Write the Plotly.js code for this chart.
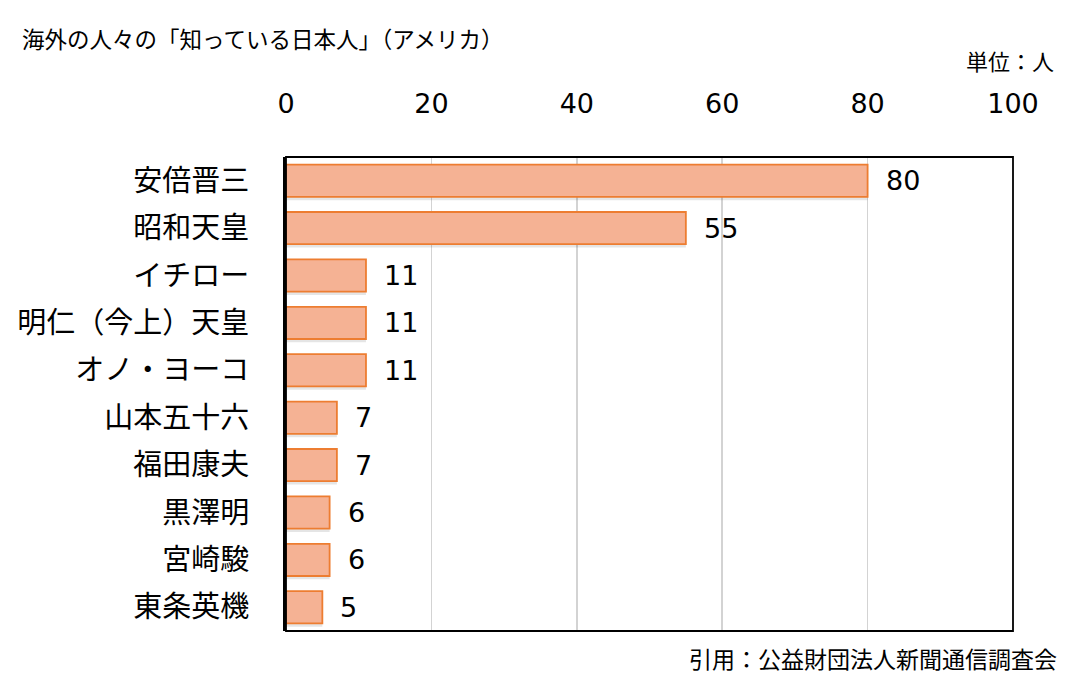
<!DOCTYPE html>
<html>
<head>
<meta charset="utf-8">
<script src="https://cdn.plot.ly/plotly-3.0.1.min.js"></script>
<style>html,body{margin:0;padding:0;background:#fff;}#chart{width:1067px;height:674px;}</style>
</head>
<body>
<div id="chart"></div>
<script>
const names = ["安倍晋三","昭和天皇","イチロー","明仁（今上）天皇","オノ・ヨーコ","山本五十六","福田康夫","黒澤明","宮崎駿","東条英機"];
const counts = [80, 55, 11, 11, 11, 7, 7, 6, 6, 5];
const tickVals = [0, 20, 40, 60, 80, 100];

const jp = '"Noto Sans CJK JP", "Noto Sans", sans-serif';
const num = '"DejaVu Sans", Verdana, sans-serif';

const shadow = {
  type: 'bar', orientation: 'h', y: names, x: counts,
  width: 0.70, offset: -0.29,
  marker: {color: 'rgba(0,0,0,0.10)', line: {width: 0}},
  hoverinfo: 'skip', showlegend: false
};
const bars = {
  type: 'bar', orientation: 'h', y: names, x: counts,
  width: 0.68,
  marker: {color: '#F5B294', line: {color: '#ED7D31', width: 1.8}},
  showlegend: false
};

const annotations = counts.map((v, i) => ({
  x: v, y: names[i], xref: 'x', yref: 'y', text: String(v),
  showarrow: false, xanchor: 'left', yanchor: 'middle', xshift: 16,
  font: {family: num, size: 27, color: '#000'}
}));
annotations.push({
  xref: 'paper', yref: 'paper', x: 1.059, y: 1.205, xanchor: 'right', yanchor: 'middle',
  text: '単位：人', showarrow: false, font: {family: jp, size: 22, color: '#000'}
});
annotations.push({
  xref: 'paper', yref: 'paper', x: 1.063, y: -0.057, xanchor: 'right', yanchor: 'middle',
  text: '引用：公益財団法人新聞通信調査会', showarrow: false, font: {family: jp, size: 23, color: '#000'}
});

const layout = {
  width: 1067, height: 674,
  margin: {l: 286, r: 54, t: 157, b: 43, pad: 0},
  paper_bgcolor: '#fff', plot_bgcolor: '#fff',
  title: {text: '海外の人々の「知っている日本人」（アメリカ）', x: 22/1067, xref: 'container', xanchor: 'left',
          y: 1 - 40/674, yref: 'container', yanchor: 'middle',
          font: {family: jp, size: 22.5, color: '#000'}},
  barmode: 'overlay',
  xaxis: {side: 'top', range: [0, 100], tickvals: tickVals, ticktext: tickVals.map(String),
          showgrid: true, gridcolor: '#D3D3D3', gridwidth: 1.5, zeroline: false,
          showline: false, ticks: '', ticklabelstandoff: 38,
          tickfont: {family: num, size: 27, color: '#000'}, fixedrange: true},
  yaxis: {autorange: 'reversed', showgrid: false, zeroline: false, showline: true,
          linecolor: '#000', linewidth: 3, ticks: '', ticklabelstandoff: 28,
          tickfont: {family: jp, size: 29, color: '#000'}, fixedrange: true},
  shapes: [{type: 'rect', xref: 'paper', yref: 'paper', x0: 0, x1: 1, y0: 0, y1: 1,
            line: {color: '#000', width: 1.8}, fillcolor: 'rgba(0,0,0,0)', layer: 'above'}],
  annotations: annotations
};

Plotly.newPlot('chart', [shadow, bars], layout, {displayModeBar: false, staticPlot: true});
</script>
</body>
</html>
